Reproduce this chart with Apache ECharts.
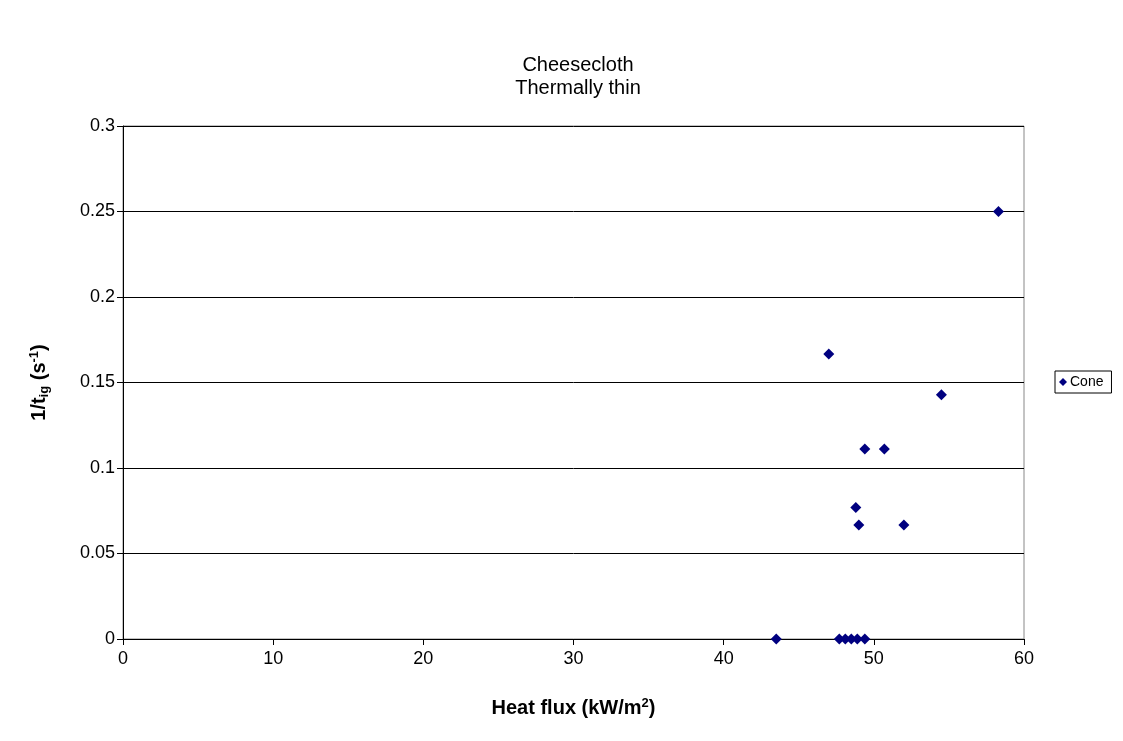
<!DOCTYPE html>
<html><head><meta charset="utf-8">
<script src="https://cdn.jsdelivr.net/npm/echarts@6/dist/echarts.min.js"></script>
<style>html,body{margin:0;padding:0;background:#fff}#c{width:1123px;height:741px}</style>
</head><body><div id="c"></div>
<script>
const heatFlux = [58.3, 47.0, 54.5, 49.4, 50.7, 48.8, 49.0, 52.0, 43.5, 47.7, 48.1, 48.5, 48.9, 49.4];
const invTig   = [0.25, 0.1667, 0.1429, 0.1111, 0.1111, 0.0769, 0.0667, 0.0667, 0, 0, 0, 0, 0, 0];
const seriesName = 'Cone';
const titleLines = ['Cheesecloth', 'Thermally thin'];

const chart = echarts.init(document.getElementById('c'));
const F = 'Arial, "Liberation Sans", sans-serif';
chart.setOption({
  animation: false,
  backgroundColor: '#fff',
  title: {
    text: titleLines.join('\n'), left: 573, top: 49, textAlign: 'center',
    textStyle: {fontFamily: F, fontSize: 20, fontWeight: 'normal', color: '#000', lineHeight: 23}
  },
  legend: {
    data: [{name: seriesName, icon: 'diamond'}], orient: 'vertical',
    left: 1055, top: 371, itemWidth: 8, itemHeight: 8, itemGap: 4,
    padding: [4, 8, 4, 4], borderColor: '#000', borderWidth: 1,
    textStyle: {fontFamily: F, fontSize: 14, color: '#000', padding: [0, 0, 0, -2]}
  },
  grid: {left: 123, right: 99, top: 126, bottom: 102, show: true, borderColor: '#888', borderWidth: 1},
  xAxis: {
    type: 'value', min: 0, max: 60, interval: 10,
    name: '{b|Heat flux (kW/m}{s|2}{b|)}', nameLocation: 'middle', nameGap: 58,
    nameTextStyle: {rich: {b: {fontFamily: F, fontSize: 20, fontWeight: 'bold', color: '#000'}, s: {fontFamily: F, fontSize: 13, fontWeight: 'bold', color: '#000', verticalAlign: 'top', padding: [0, 0, 10, 0]}}},
    axisLine: {lineStyle: {color: '#000'}}, axisTick: {inside: false, length: 6, lineStyle: {color: '#000'}},
    axisLabel: {fontFamily: F, fontSize: 18, color: '#000', margin: 11},
    splitLine: {show: false}
  },
  yAxis: {
    type: 'value', min: 0, max: 0.3, interval: 0.05,
    name: '{b|1/t}{sub|ig}{b| (s}{sup|-1}{b|)}', nameLocation: 'middle', nameGap: 72,
    nameTextStyle: {rich: {
      b: {fontFamily: F, fontSize: 20, fontWeight: 'bold', color: '#000'},
      sub: {fontFamily: F, fontSize: 13, fontWeight: 'bold', color: '#000', padding: [10, 0, 0, 0]},
      sup: {fontFamily: F, fontSize: 13, fontWeight: 'bold', color: '#000', padding: [0, 0, 10, 0]}
    }},
    axisLine: {show: true, lineStyle: {color: '#000'}}, axisTick: {show: true, length: 6, lineStyle: {color: '#000'}},
    axisLabel: {fontFamily: F, fontSize: 18, color: '#000', margin: 8, formatter: v => String(+v.toFixed(2))},
    splitLine: {show: true, lineStyle: {color: '#000', width: 1}}
  },
  series: [{
    name: seriesName, type: 'scatter', symbol: 'diamond', symbolSize: 11,
    itemStyle: {color: '#000080', opacity: 1},
    data: heatFlux.map((x, i) => [x, invTig[i]])
  }]
});
</script></body></html>
